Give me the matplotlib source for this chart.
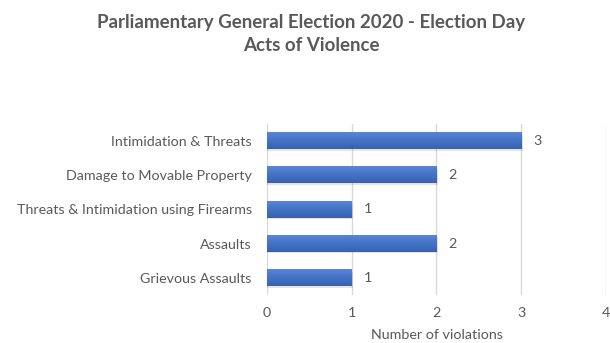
import matplotlib
matplotlib.use("Agg")
import matplotlib.pyplot as plt
import numpy as np

categories = ['Intimidation & Threats', 'Damage to Movable Property',
              'Threats & Intimidation using Firearms', 'Assaults', 'Grievous Assaults']
counts = [3, 2, 1, 2, 1]
xticks = [0, 1, 2, 3, 4]

plt.rcParams['font.family'] = ['Lato', 'DejaVu Sans']
GRAY = '#595959'

fig = plt.figure(figsize=(6.1, 3.43), dpi=100)
ax = fig.add_axes([0.4377, 0.140, 0.5557, 0.4985])

ypos = np.arange(len(categories))
bar_h = 0.47

# gradient fill for each bar (light top -> dark bottom)
grad = np.linspace(0, 1, 64).reshape(-1, 1)
cmap = matplotlib.colors.LinearSegmentedColormap.from_list('b', ['#5a86d2', '#4472c4', '#3562b4'])
for y, v in zip(ypos, counts):
    # soft shadow
    ax.barh(y + 0.05, v + 0.015, height=bar_h, color='#000000', alpha=0.10, zorder=2)
    ax.imshow(grad, extent=[0, v, y + bar_h / 2, y - bar_h / 2], cmap=cmap,
              aspect='auto', zorder=3)
    ax.text(v + 0.14, y, str(v), va='center', ha='left', fontsize=10.3, color=GRAY)

ax.set_xlim(0, 4)
ax.set_ylim(len(categories) - 0.5, -0.5)
ax.set_xticks(xticks)
ax.set_yticks(ypos)
ax.set_yticklabels(categories)
ax.tick_params(length=0, labelsize=10.3, colors=GRAY)
ax.tick_params(axis='x', pad=9)
ax.tick_params(axis='y', pad=11)
ax.grid(axis='x', color='#d9d9d9', linewidth=1, zorder=0)
ax.set_axisbelow(True)
for s in ax.spines.values():
    s.set_visible(False)
ax.set_xlabel('Number of violations', fontsize=10.3, color=GRAY, labelpad=7)

fig.text(0.51, 0.935, 'Parliamentary General Election 2020 - Election Day',
         ha='center', va='center', fontsize=13.5, fontweight='bold', color=GRAY)
fig.text(0.51, 0.866, 'Acts of Violence',
         ha='center', va='center', fontsize=13.5, fontweight='bold', color=GRAY)

fig.savefig('out.png', dpi=100)
